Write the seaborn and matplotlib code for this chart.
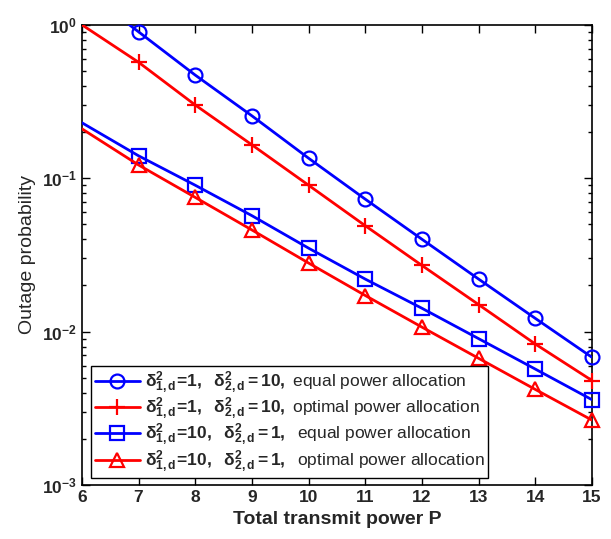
import numpy as np
import pandas as pd
import matplotlib
matplotlib.use("Agg")
import matplotlib.pyplot as plt
import seaborn as sns
from matplotlib.lines import Line2D
from matplotlib.ticker import FixedLocator, FixedFormatter, LogLocator, NullFormatter

sns.set_style("ticks")
plt.rcParams['font.family'] = ['Liberation Sans', 'DejaVu Sans']
plt.rcParams['mathtext.fontset'] = 'custom'
plt.rcParams['mathtext.rm'] = 'Liberation Sans'
plt.rcParams['mathtext.bf'] = 'Liberation Sans:bold'
plt.rcParams['mathtext.it'] = 'Liberation Sans:italic'

power = [6, 7, 8, 9, 10, 11, 12, 13, 14, 15]
eq_1_10 = [1.72, 0.90, 0.47, 0.255, 0.135, 0.073, 0.040, 0.022, 0.0122, 0.0068]
opt_1_10 = [1.0, 0.57, 0.30, 0.165, 0.090, 0.049, 0.027, 0.015, 0.0083, 0.0048]
eq_10_1 = [0.23, 0.14, 0.090, 0.057, 0.035, 0.022, 0.0142, 0.0090, 0.0057, 0.0036]
opt_10_1 = [0.21, 0.122, 0.075, 0.046, 0.028, 0.0172, 0.0107, 0.0067, 0.0042, 0.00265]

labels = [
    r"$\mathbf{\delta^2_{1,d}\!=\!1,\ \ \delta^2_{2,d}=10,}$ equal power allocation",
    r"$\mathbf{\delta^2_{1,d}\!=\!1,\ \ \delta^2_{2,d}=10,}$ optimal power allocation",
    r"$\mathbf{\delta^2_{1,d}\!=\!10,\ \ \delta^2_{2,d}=1,}$  equal power allocation",
    r"$\mathbf{\delta^2_{1,d}\!=\!10,\ \ \delta^2_{2,d}=1,}$  optimal power allocation",
]
series = [eq_1_10, opt_1_10, eq_10_1, opt_10_1]
colors = ['#0000ff', '#ff0000', '#0000ff', '#ff0000']
markers = ['o', '+', 's', '^']

fig = plt.figure(figsize=(6.11, 5.39), dpi=100)
ax = fig.add_axes([0.134, 0.100, 0.835, 0.854])

handles = []
for vals, lab, c, m in zip(series, labels, colors, markers):
    df = pd.DataFrame({'P': power, 'y': vals})
    ms = 10 if m != '+' else 12
    mfc = 'none' if m != '+' else c
    # line (clipped to axes)
    sns.lineplot(data=df, x='P', y='y', ax=ax, color=c, linewidth=2, legend=False)
    # markers (not clipped, like MATLAB)
    sns.lineplot(data=df.iloc[1:], x='P', y='y', ax=ax, color=c, linestyle='', marker=m,
                 markersize=ms, markerfacecolor=mfc, markeredgecolor=c,
                 markeredgewidth=1.6, clip_on=False, legend=False)
    handles.append(Line2D([], [], color=c, linewidth=2, marker=m, markersize=ms,
                          markerfacecolor=mfc, markeredgecolor=c, markeredgewidth=1.6,
                          label=lab))

ax.set_yscale('log')
ax.set_xlim(6, 15)
ax.set_ylim(1e-3, 1)
ax.xaxis.set_major_locator(FixedLocator(power))
ax.set_xticklabels([str(p) for p in power], fontweight='bold', fontsize=12.5)
ax.yaxis.set_major_locator(FixedLocator([1e-3, 1e-2, 1e-1, 1]))
ax.yaxis.set_major_formatter(FixedFormatter([r"$\mathbf{10^{-3}}$", r"$\mathbf{10^{-2}}$",
                                             r"$\mathbf{10^{-1}}$", r"$\mathbf{10^{0}}$"]))
ax.yaxis.set_minor_locator(LogLocator(base=10, subs=np.arange(2, 10)))
ax.yaxis.set_minor_formatter(NullFormatter())
for t in ax.get_yticklabels():
    t.set_fontsize(12.5)
ax.tick_params(which='both', direction='in', top=True, right=True, color='black')
ax.tick_params(which='major', length=6, width=1)
ax.tick_params(which='minor', length=3, width=1)
for s in ax.spines.values():
    s.set_color('black')
    s.set_linewidth(1.2)
    s.set_zorder(1)

ax.set_xlabel('Total transmit power P', fontsize=14, fontweight='bold')
ax.set_ylabel('Outage probability', fontsize=14)

leg = ax.legend(handles=handles, loc='lower left', bbox_to_anchor=(0.018, 0.015), fontsize=12.5,
                frameon=True, fancybox=False, edgecolor='black', framealpha=1,
                handlelength=2.6, borderpad=0.2, labelspacing=0.0, handletextpad=0.3,
                borderaxespad=0)
leg.get_frame().set_linewidth(1.0)

fig.savefig('out.png', dpi=100)
